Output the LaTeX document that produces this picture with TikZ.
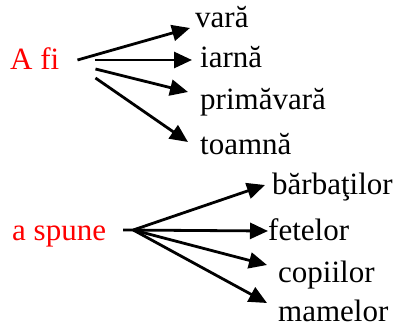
\documentclass[tikz,border=0pt]{standalone}
\usepackage{fontspec}
\setmainfont{Liberation Serif}
\newfontfamily\wordfont{Liberation Serif}
\usetikzlibrary{arrows.meta}
\definecolor{verbred}{HTML}{FF0000}
\tikzset{
  word/.style={anchor=base west,inner sep=0pt},
  verbword/.style={word,text=verbred},
  link/.style={line width=2.8pt,-{Triangle[length=18pt,width=16pt]}},
}
\begin{document}
\begin{tikzpicture}[x=1pt,y=1pt,font=\wordfont\fontsize{31}{37}\selectfont]
\useasboundingbox (0,0) rectangle (404,327);
% first verb and its four words
\node[verbword] (afi) at (10,257) {A fi};
\node[word] (vara) at (195,299) {vară};
\node[word] (iarna) at (200,259) {iarnă};
\node[word] (primavara) at (200,217) {primăvară};
\node[word] (toamna) at (200,172) {toamnă};
\coordinate (afi1) at ([shift={(18,10)}]afi.base east);
\coordinate (afi2) at ([shift={(36,10)}]afi.base east);
\coordinate (afi3) at ([shift={(36,1)}]afi.base east);
\coordinate (afi4) at ([shift={(36,-8)}]afi.base east);
\foreach \t/\h/\dx/\dy in {afi1/vara/-5/0, afi2/iarna/-8/8,
    afi3/primavara/-12/18, afi4/toamna/-12/13}
  \draw[link] (\t) -- ([shift={(\dx,\dy)}]\h.base west);
% second verb
\node[verbword] (spune) at (12,87) {a spune};
\node[word] (barbatilor) at (272,132) {bărbaţilor};
\node[word] (fetelor) at (268,87) {fetelor};
\node[word] (copiilor) at (278,45) {copiilor};
\node[word] (mamelor) at (278,6) {mamelor};
\coordinate (spuneA) at ([shift={(17,10)}]spune.base east);
\coordinate (spuneB) at ([shift={(27,10)}]spune.base east);
\foreach \t/\h/\dx/\dy in {spuneB/barbatilor/-7/10, spuneA/fetelor/0/9,
    spuneB/copiilor/-11/17, spuneB/mamelor/-11/18}
  \draw[link] (\t) -- ([shift={(\dx,\dy)}]\h.base west);
\end{tikzpicture}
\end{document}
